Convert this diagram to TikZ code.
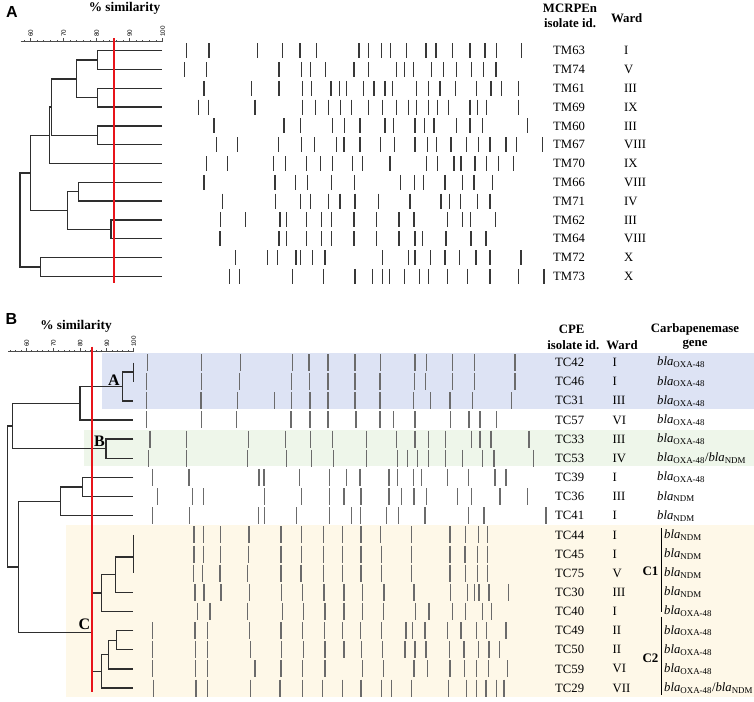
\documentclass[tikz,border=0pt]{standalone}
\usepackage{fontspec}
\setmainfont{Liberation Serif}
\setsansfont{Liberation Sans}
\newcommand{\genOXA}{\textit{bla}\textsubscript{OXA-48}}
\newcommand{\genNDM}{\textit{bla}\textsubscript{NDM}}
\newcommand{\genBoth}{\genOXA/\genNDM}
\definecolor{bgblue}{HTML}{DDE3F4}
\definecolor{bggreen}{HTML}{EEF6EA}
\definecolor{bgyellow}{HTML}{FEF8E8}
\definecolor{simred}{HTML}{E8141A}
\tikzset{
  dend/.style={draw=black!82, line width=1.4pt},
  bandA/.style={draw=black!78, line width=1.4pt},
  bandB/.style={draw=black!58, line width=1.5pt},
  redline/.style={draw=simred, line width=1.9pt},
  lab/.style={font=\fontsize{12.7}{14}\selectfont, inner sep=0pt, anchor=west},
  hdr/.style={font=\bfseries\fontsize{12.8}{14}\selectfont, inner sep=0pt, align=center},
  panel/.style={font=\sffamily\bfseries\fontsize{16}{18}\selectfont, inner sep=0pt},
  clu/.style={font=\bfseries\fontsize{16}{18}\selectfont, inner sep=0pt},
  scl/.style={font=\sffamily\fontsize{6.3}{7}\selectfont, inner sep=0pt, anchor=west, rotate=90},
  axis/.style={draw=black!70, line width=0.7pt},
  brk/.style={draw=black, line width=1pt}
}
\begin{document}
\begin{tikzpicture}[x=1pt,y=-1pt]
\useasboundingbox (0,0) rectangle (754,701);
% ---------- backgrounds panel B
\fill[bgblue] (101.7,353.3) rectangle (754,409);
\fill[bggreen] (84,430) rectangle (754,466);
\fill[bgyellow] (66,525) rectangle (754,697);

% ================= PANEL A =================
\node[panel] (pA) at (12,12) {A};
\node[font=\bfseries\fontsize{13.3}{15}\selectfont, inner sep=0pt] (simA) at (124.5,8) {\% similarity};
% scale
\draw[axis] (20.7,41.7) -- (162.5,41.7);
\foreach \s in {58,60,...,100}{
  \draw[axis] ({162.5-(100-\s)*3.3},41.7) -- ({162.5-(100-\s)*3.3},39.8);
}
\foreach \s in {60,70,80,90,100}{
  \draw[axis] ({162.5-(100-\s)*3.3},41.7) -- ({162.5-(100-\s)*3.3},38.2);
  \node[scl] (sa\s) at ({162.5-(100-\s)*3.3+0.3},37) {\s};
}
% dendrogram A
\draw[dend] (162,50.7) -- (97.7,50.7) -- (97.7,69.5) -- (162,69.5);
\draw[dend] (162,88.3) -- (97.7,88.3) -- (97.7,107.1) -- (162,107.1);
\draw[dend] (97.7,60.1) -- (76.7,60.1) -- (76.7,97.7) -- (97.7,97.7);
\draw[dend] (162,125.9) -- (97.7,125.9) -- (97.7,144.7) -- (162,144.7);
\draw[dend] (76.7,78.9) -- (51.7,78.9) -- (51.7,135.3) -- (97.7,135.3);
\draw[dend] (51.7,107.1) -- (49.3,107.1) -- (49.3,163.5) -- (162,163.5);
\draw[dend] (162,182.3) -- (78.3,182.3) -- (78.3,201.1) -- (162,201.1);
\draw[dend] (162,219.9) -- (111,219.9) -- (111,238.7) -- (162,238.7);
\draw[dend] (78.3,191.7) -- (67.3,191.7) -- (67.3,229.3) -- (111,229.3);
\draw[dend] (49.3,135.3) -- (30.7,135.3) -- (30.7,210.5) -- (67.3,210.5);
\draw[dend] (162,257.5) -- (40.7,257.5) -- (40.7,276.3) -- (162,276.3);
\draw[dend] (30.7,172.9) -- (20,172.9) -- (20,266.9) -- (40.7,266.9);
\draw[redline] (114.3,38.3) -- (114.3,283.3);
% bands A
\foreach \yy/\xs in {
50.7/{186.7,209,257.7,282.7,300,316.7,359,368.5,381.7,390.7,406.7,426,436,452.3,470,485,496.7,521.7},
69.5/{184.3,206.7,279,301.7,310.7,325.3,354,368.5,396.7,404.3,413.3,431.7,443.3,456.7,471.7,483.3,496},
88.3/{204,251.7,279,302.3,311.3,331,339.3,346.7,363.5,374,385,392.3,416.7,428.3,440,455.7,476.7,491,501.7,518.3},
107.1/{198.3,208.3,255,302.3,315.7,328.3,340.7,351.7,368.5,382.7,396.7,408.3,416.7,428.3,437.3,448.3,470,477.3,486.7,518.3},
125.9/{214,284,300.7,332.3,344.3,360,385,393.3,415,424.3,434,456.7,470,482.7,527.7},
144.7/{216.7,237.7,278.3,301.7,314.3,336.7,344,360,380.7,394.3,415,427.7,436.7,451,466.7,478.3,490,506,516.7,542.7},
163.5/{206.7,227.7,273.3,285.7,306.7,320.7,332.3,352.7,362.2,390,426.7,437.7,454,461,475,486.7,498.3,513.3},
182.3/{204,275,295.7,307.7,331.7,354.3,400.7,414.3,423.3,445,462.7,474,492.3},
201.1/{222.3,275.7,300.7,310.7,328.3,340,355,378.3,410,441,449.3,460.7,477.3,490},
219.9/{220.7,245.7,280,286.7,306.7,321.7,331.7,354,376.7,399,414,447.7,462.7,470.7,495.7},
238.7/{220,279,286.7,306.7,321.7,331.7,354,376.7,399,415,422.7,446,471,486},
257.5/{235.7,267.3,277.7,296,300.7,312.7,325,382.7,408.3,415,430.7,445,459.3,476,490,521},
276.3/{229.3,239.3,292.3,323.3,355,372.3,382.7,389.3,404.3,419.3,428.3,447.7,467.7,490,518.3,544}}{
  \foreach \xx in \xs {\draw[bandA] (\xx,\yy-7.5) -- (\xx,\yy+7.5);}
}
% labels A
\node[hdr] (hA1) at (570,8.3) {MCRPEn};
\node[hdr] (hA2) at (570,23.3) {isolate id.};
\node[hdr] (hA3) at (626.7,18.3) {Ward};
\foreach \i/\id/\w in {1/63/I,2/74/V,3/61/III,4/69/IX,5/60/III,6/67/VIII,7/70/IX,8/66/VIII,9/71/IV,10/62/III,11/64/VIII,12/72/X,13/73/X}{
  \node[lab] (tm\i) at (553,{50.7+18.8*(\i-1)}) {TM\id};
  \node[lab] (wa\i) at (624,{50.7+18.8*(\i-1)}) {\w};
}

% ================= PANEL B =================
\node[panel] (pB) at (11.5,318.5) {B};
\node[font=\bfseries\fontsize{13.3}{15}\selectfont, inner sep=0pt] (simB) at (76,326) {\% similarity};
\draw[axis] (8.3,351.7) -- (133.3,351.7);
\foreach \s in {54,56,...,100}{
  \draw[axis] ({133.3-(100-\s)*2.67},351.7) -- ({133.3-(100-\s)*2.67},349.8);
}
\foreach \s in {60,70,80,90,100}{
  \draw[axis] ({133.3-(100-\s)*2.67},351.7) -- ({133.3-(100-\s)*2.67},348.2);
  \node[scl] (sb\s) at ({133.3-(100-\s)*2.67+0.3},347) {\s};
}
% dendrogram B
\draw[dend] (133.3,362.5) -- (133.3,381.65);
\draw[dend] (133.3,372.1) -- (122.7,372.1) -- (122.7,400.8) -- (133.3,400.8);
\draw[dend] (122.7,386.45) -- (80,386.45) -- (80,419.95) -- (133.3,419.95);
\draw[dend] (133.3,439.1) -- (106,439.1) -- (106,458.25) -- (133.3,458.25);
\draw[dend] (80,403.2) -- (12.7,403.2) -- (12.7,448.7) -- (106,448.7);
\draw[dend] (133.3,477.4) -- (82.3,477.4) -- (82.3,496.55) -- (133.3,496.55);
\draw[dend] (82.3,487) -- (60.7,487) -- (60.7,515.7) -- (133.3,515.7);
\draw[dend] (133.3,534.85) -- (133.3,573.15);
\draw[dend] (133.3,557) -- (115.7,557) -- (115.7,592.3) -- (133.3,592.3);
\draw[dend] (115.7,574.65) -- (101.7,574.65) -- (101.7,611.45) -- (133.3,611.45);
\draw[dend] (133.3,630.6) -- (116.7,630.6) -- (116.7,649.75) -- (133.3,649.75);
\draw[dend] (116.7,640.2) -- (108.3,640.2) -- (108.3,668.9) -- (133.3,668.9);
\draw[dend] (108.3,654.55) -- (101.7,654.55) -- (101.7,688.05) -- (133.3,688.05);
\draw[dend] (101.7,593.05) -- (91.7,593.05) -- (91.7,671.3) -- (101.7,671.3);
\draw[dend] (60.7,501.35) -- (18.3,501.35) -- (18.3,632.2) -- (91.7,632.2);
\draw[dend] (12.7,425.95) -- (7.3,425.95) -- (7.3,566.8) -- (18.3,566.8);
\node[clu] (cA) at (114,380) {A};
\node[clu] (cB) at (99.5,441) {B};
\node[clu] (cC) at (84.3,624) {C};
\draw[redline] (91.7,346.7) -- (91.7,691.7);
% bands B
\foreach \yy/\xs in {
362.5/{147.7,201.7,240.7,292.3,309,327.8,355,380.7,415,426.7,452.7,474.3,515},
381.65/{146.7,201.7,239.3,291.7,309.3,327.8,355,380,414.3,425.7,452.7,474.3,515},
400.8/{146.7,201,237.3,274.3,291.7,310,327.8,355,380,413.3,430.7,450,472.7,511.7},
419.95/{146.7,201.7,236.7,291,310,327.8,356,380,393.3,415,450.7,469,480,496.7},
439.1/{150,186.7,248.3,285.7,310.7,332.7,366.7,396.7,415,428.3,445.7,471.7,480,491,529},
458.25/{148.3,186.7,247.7,286.7,311.7,333.3,366.7,397.3,407.3,417.3,428.3,445.7,462.7,482.3,494,533.3},
477.4/{152.3,189,259,264,299.3,329.3,346.7,360,389,397.7,413.3,421.7,447.7,468.3,495,506},
496.55/{157.7,192.7,203.3,264.3,301.7,329.3,344,361,389,401.7,414,426.7,457.7,471.7,500,527.7},
515.7/{152.7,189.3,258.3,264.3,296.7,329.3,351.7,360.7,386.7,398.3,425,468.3,484,546},
534.85/{194,203.3,220.7,249,281,301.7,323.3,342.7,361,380.7,411.7,450,465.7,478.3,487.3},
554/{194,203.3,220.7,248.3,281,301.7,323.3,342.7,361,381.7,411.7,450,465,477.3,487.3},
573.15/{193.3,202.7,220,247.7,281,301,323.3,342.7,361,381.7,411.7,450,465.7,477.3,487.3},
592.3/{195,204,221,249.3,281.7,302.7,324,344,362.3,384,414,450.7,467.7,474.3,479,489,508.3},
611.45/{197.3,210,247.7,282.3,303.3,325,344,362.3,383.3,415.7,429,452.3,465.7,482.3,491.7},
630.6/{152.3,195,207.3,249.3,281,302.7,324.5,342.7,360.7,381.7,406,412.7,425,447.7,461,476.7,486.7,506},
649.75/{152.3,195.7,207.7,250.7,281.7,303.3,325,344,361.7,382.7,405,415,426,449.3,464,478.3,489,499.3},
668.9/{152.3,195.7,207.7,255,281,302.7,325,362.3,383.3,414,427.3,450,464.3,476.7,488.3,507.7},
688.05/{153.3,196,207.7,250.7,280,302.7,322.5,342.7,361,381.7,391.7,411.7,448.3,466.7,476.7,486,496.7,504}}{
  \foreach \xx in \xs {\draw[bandB] (\xx,\yy-8.5) -- (\xx,\yy+8.5);}
}
% labels B
\node[hdr] (hB1) at (571.7,329) {CPE};
\node[hdr] (hB2) at (573.3,345) {isolate id.};
\node[hdr] (hB3) at (622,345) {Ward};
\node[hdr] (hB4) at (695,329) {Carbapenemase};
\node[hdr] (hB5) at (695,345) {gene};
\foreach \i/\id/\w/\g in {1/42/I/\genOXA,2/46/I/\genOXA,3/31/III/\genOXA,4/57/VI/\genOXA,5/33/III/\genOXA,6/53/IV/\genBoth,7/39/I/\genOXA,8/36/III/\genNDM,9/41/I/\genNDM}{
  \node[lab] (tc\i) at (555,{362.5+19.15*(\i-1)}) {TC\id};
  \node[lab] (wb\i) at (612.5,{362.5+19.15*(\i-1)}) {\w};
  \node[lab] (gn\i) at (657,{362.5+19.15*(\i-1)}) {\g};
}
\foreach \i/\id/\w/\g in {10/44/I/\genNDM,11/45/I/\genNDM,12/75/V/\genNDM,13/30/III/\genNDM,14/40/I/\genOXA,15/49/II/\genOXA,16/50/II/\genOXA,17/59/VI/\genOXA,18/29/VII/\genBoth}{
  \node[lab] (tc\i) at (555,{362.5+19.15*(\i-1)}) {TC\id};
  \node[lab] (wb\i) at (612.5,{362.5+19.15*(\i-1)}) {\w};
  \node[lab] (gn\i) at (664,{362.5+19.15*(\i-1)}) {\g};
}
\coordinate (c1t) at (661.7,528.3);
\coordinate (c1b) at (661.7,611.7);
\coordinate (c2t) at (661.7,616.7);
\coordinate (c2b) at (661.7,695);
\draw[brk] (c1t) -- (c1b);
\draw[brk] (c2t) -- (c2b);
\node[font=\bfseries\fontsize{13}{15}\selectfont, inner sep=0pt] (lc1) at (650.5,571.7) {C1};
\node[font=\bfseries\fontsize{13}{15}\selectfont, inner sep=0pt] (lc2) at (650.5,658.3) {C2};
\end{tikzpicture}
\end{document}
